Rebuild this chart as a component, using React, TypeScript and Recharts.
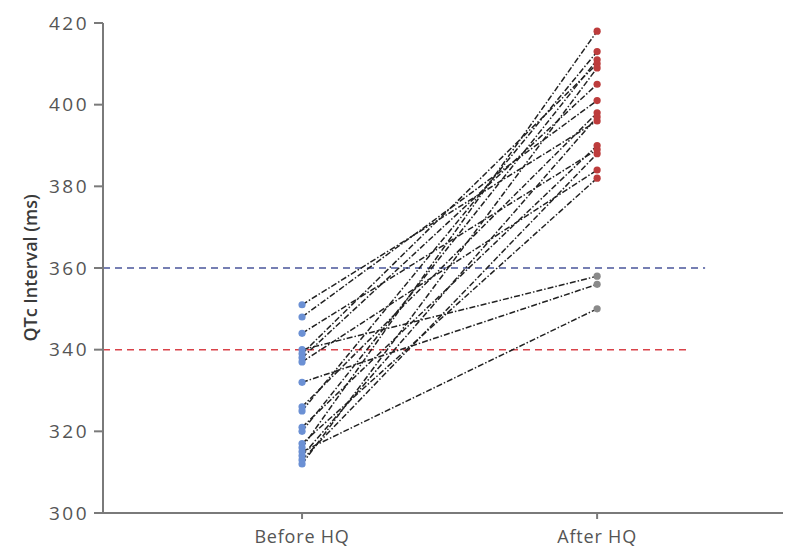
import { ComposedChart, Line, Scatter, Cell, XAxis, YAxis, ReferenceLine } from "recharts";

const categories = ["Before HQ", "After HQ"];
const beforeQTc = [351, 348, 344, 340, 339, 338, 337, 332, 326, 325, 321, 320, 317, 316, 314, 313, 312, 315];
const afterQTc = [396, 401, 389, 358, 410, 405, 384, 356, 398, 413, 390, 411, 382, 418, 397, 388, 409, 350];
const yTicks = [300, 320, 340, 360, 380, 400, 420];
const upperLimit = 360;
const lowerLimit = 340;

const pairs = beforeQTc.map((b, i) => [
  { x: 1, y: b },
  { x: 2, y: afterQTc[i] },
]);
const beforePoints = beforeQTc.map((y) => ({ x: 1, y }));
const afterPoints = afterQTc.map((y) => ({ x: 2, y }));

const axisColor = "#7a7a7a";
const font = "'Open Sans', sans-serif";

export default function App() {
  return (
    <div style={{ position: "absolute", left: 0, top: 0, background: "#fff" }}>
      <ComposedChart width={785} height={551} margin={{ top: 23, right: 2, bottom: 0, left: 0 }}>
        <XAxis
          type="number"
          dataKey="x"
          domain={[0.3254, 2.63]}
          ticks={[1, 2]}
          tickFormatter={(v: number) => categories[v - 1]}
          stroke={axisColor}
          strokeWidth={2}
          tickSize={6}
          tick={{ fill: "#555", fontSize: 18, fontFamily: font, letterSpacing: 0.8, dy: 9 }}
          height={38}
          allowDataOverflow
        />
        <YAxis
          type="number"
          dataKey="y"
          domain={[300, 420]}
          ticks={yTicks}
          stroke={axisColor}
          strokeWidth={2}
          tickSize={9}
          tick={{ fill: "#555", fontSize: 19, fontFamily: font, letterSpacing: 2.5, dx: -3 }}
          width={103}
          label={{
            value: "QTc Interval (ms)",
            angle: -90,
            position: "insideLeft",
            offset: 31,
            style: { fill: "#3a3a3a", fontSize: 18, fontWeight: 600, fontFamily: font, textAnchor: "middle" },
          }}
        />
        <ReferenceLine
          segment={[{ x: 0.3254, y: upperLimit }, { x: 2.366, y: upperLimit }]}
          stroke="#4a559a"
          strokeWidth={1.5}
          strokeDasharray="7 5"
        />
        <ReferenceLine
          segment={[{ x: 0.3254, y: lowerLimit }, { x: 2.315, y: lowerLimit }]}
          stroke="#d9434a"
          strokeWidth={1.5}
          strokeDasharray="7 5"
        />
        {pairs.map((d, i) => (
          <Line
            key={i}
            data={d}
            dataKey="y"
            stroke="#222"
            strokeWidth={1.5}
            strokeDasharray="6 2 1.5 2"
            dot={false}
            activeDot={false}
            isAnimationActive={false}
          />
        ))}
        <Scatter data={beforePoints} dataKey="y" fill="#6b90d4" isAnimationActive={false}
          shape={(p: any) => <circle cx={p.cx} cy={p.cy} r={3.6} fill="#6b90d4" />} />
        <Scatter data={afterPoints} dataKey="y" isAnimationActive={false}
          shape={(p: any) => <circle cx={p.cx} cy={p.cy} r={3.6} fill={p.payload.y >= upperLimit ? "#bd3c3c" : "#8a8a8a"} />}>
          {afterPoints.map((pt, i) => (
            <Cell key={i} fill={pt.y >= upperLimit ? "#bd3c3c" : "#8a8a8a"} />
          ))}
        </Scatter>
      </ComposedChart>
    </div>
  );
}
